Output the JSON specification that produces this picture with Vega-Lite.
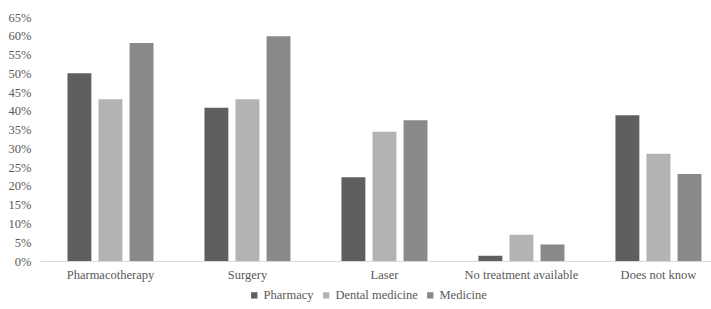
{
  "$schema": "https://vega.github.io/schema/vega-lite/v6.json",
  "width": 671,
  "height": 244,
  "autosize": {"type": "none"},
  "padding": {"left": 40, "top": 17, "right": 0, "bottom": 48},
  "background": "white",
  "data": {
    "values": [
      {"category": "Pharmacotherapy", "group": "Pharmacy", "value": 0.50},
      {"category": "Pharmacotherapy", "group": "Dental medicine", "value": 0.431},
      {"category": "Pharmacotherapy", "group": "Medicine", "value": 0.581},
      {"category": "Surgery", "group": "Pharmacy", "value": 0.408},
      {"category": "Surgery", "group": "Dental medicine", "value": 0.431},
      {"category": "Surgery", "group": "Medicine", "value": 0.599},
      {"category": "Laser", "group": "Pharmacy", "value": 0.223},
      {"category": "Laser", "group": "Dental medicine", "value": 0.344},
      {"category": "Laser", "group": "Medicine", "value": 0.375},
      {"category": "No treatment available", "group": "Pharmacy", "value": 0.014},
      {"category": "No treatment available", "group": "Dental medicine", "value": 0.070},
      {"category": "No treatment available", "group": "Medicine", "value": 0.044},
      {"category": "Does not know", "group": "Pharmacy", "value": 0.388},
      {"category": "Does not know", "group": "Dental medicine", "value": 0.286},
      {"category": "Does not know", "group": "Medicine", "value": 0.232}
    ]
  },
  "mark": {"type": "bar"},
  "encoding": {
    "x": {
      "field": "category",
      "type": "nominal",
      "sort": ["Pharmacotherapy", "Surgery", "Laser", "No treatment available", "Does not know"],
      "scale": {"paddingInner": 0.32, "paddingOuter": 0.109, "align": 0.8},
      "axis": {
        "title": null,
        "labelAngle": 0,
        "ticks": false,
        "domainColor": "#d9d9d9",
        "labelPadding": 7
      }
    },
    "xOffset": {
      "field": "group",
      "type": "nominal",
      "sort": ["Pharmacy", "Dental medicine", "Medicine"],
      "scale": {"paddingInner": 0.23, "paddingOuter": 0.115}
    },
    "y": {
      "field": "value",
      "type": "quantitative",
      "scale": {"domain": [0, 0.65], "nice": false},
      "axis": {
        "title": null,
        "format": ".0%",
        "values": [0, 0.05, 0.1, 0.15, 0.2, 0.25, 0.3, 0.35, 0.4, 0.45, 0.5, 0.55, 0.6, 0.65],
        "grid": false,
        "domain": false,
        "ticks": false,
        "labelPadding": 9
      }
    },
    "color": {
      "field": "group",
      "type": "nominal",
      "sort": ["Pharmacy", "Dental medicine", "Medicine"],
      "scale": {"domain": ["Pharmacy", "Dental medicine", "Medicine"], "range": ["#5f5f5f", "#b3b3b3", "#898989"]},
      "legend": {
        "title": null,
        "orient": "none",
        "direction": "horizontal",
        "legendX": 208,
        "legendY": 272,
        "symbolType": "square",
        "symbolSize": 40,
        "symbolStrokeWidth": 0,
        "labelOffset": 3,
        "columnPadding": 6
      }
    }
  },
  "config": {
    "view": {"stroke": null},
    "axis": {"labelFont": "Liberation Serif", "labelFontSize": 12.5, "labelColor": "#595959"},
    "legend": {"labelFont": "Liberation Serif", "labelFontSize": 12.5, "labelColor": "#595959"}
  }
}
